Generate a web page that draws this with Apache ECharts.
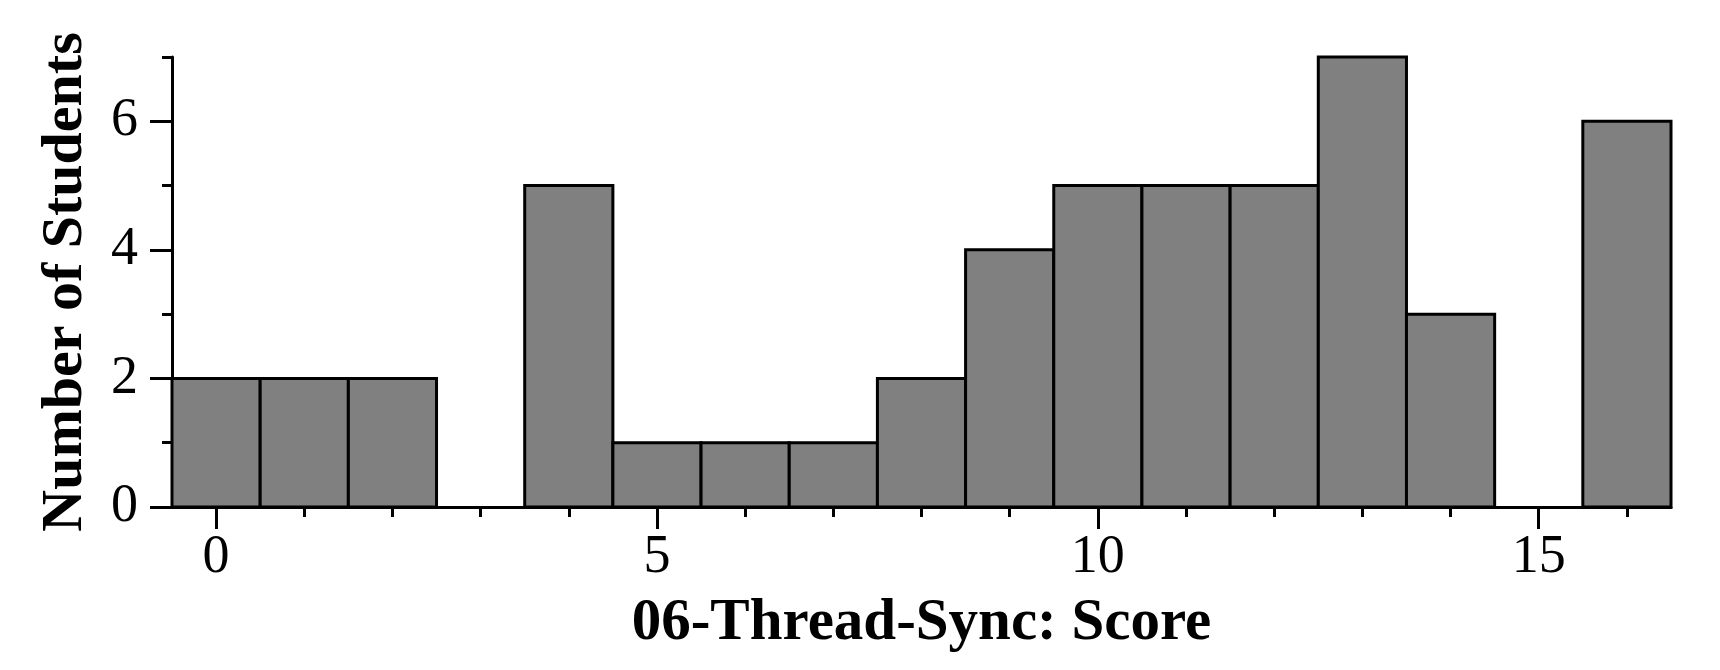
<!DOCTYPE html>
<html>
<head>
<meta charset="utf-8">
<script src="https://cdn.jsdelivr.net/npm/echarts@6/dist/echarts.min.js"></script>
<style>html,body{margin:0;padding:0;background:#fff}#c{width:1720px;height:670px}</style>
</head>
<body>
<div id="c"></div>
<script>
const scores = [0,1,2,3,4,5,6,7,8,9,10,11,12,13,14,15,16];
const counts = [2,2,2,0,5,1,1,1,2,4,5,5,5,7,3,0,6];
const xMajorTicks = [0,5,10,15];
const xMinorTicks = [1,2,3,4,6,7,8,9,11,12,13,14,16];
const yMajorTicks = [0,2,4,6];
const yMinorTicks = [1,3,5,7];
const xTitle = '06-Thread-Sync: Score';
const yTitle = 'Number of Students';

const serif = 'Liberation Serif';
const chart = echarts.init(document.getElementById('c'), null, {renderer:'canvas'});
const axisLine = {show:true, onZero:false, lineStyle:{color:'#000', width:3}};
const data = scores.map((s,i)=>[s, counts[i]]);

chart.setOption({
  animation:false,
  backgroundColor:'#fff',
  grid:{left:172, right:49, top:57, bottom:163, containLabel:false},
  xAxis:[{
    type:'value', min:-0.5, max:16.5, position:'bottom',
    axisLine: axisLine,
    axisTick:{show:true, length:22, lineStyle:{width:3,color:'#000'}, customValues:xMajorTicks},
    axisLabel:{show:true, customValues:xMajorTicks, margin:24, fontFamily:serif, fontSize:54, color:'#000'},
    splitLine:{show:false}
  },{
    type:'value', min:-0.5, max:16.5, position:'bottom', offset:0,
    axisLine:{show:false, onZero:false},
    axisTick:{show:true, length:10, lineStyle:{width:3,color:'#000'}, customValues:xMinorTicks},
    axisLabel:{show:false},
    splitLine:{show:false}
  }],
  yAxis:[{
    type:'value', min:0, max:7, position:'left',
    name:yTitle, nameLocation:'middle', nameRotate:90, nameGap:77,
    nameTextStyle:{fontFamily:serif, fontWeight:'bold', fontSize:58, color:'#000'},
    axisLine: axisLine,
    axisTick:{show:true, length:22, lineStyle:{width:3,color:'#000'}, customValues:yMajorTicks},
    axisLabel:{show:true, customValues:yMajorTicks, margin:34, fontFamily:serif, fontSize:54, color:'#000'},
    splitLine:{show:false}
  },{
    type:'value', min:0, max:7, position:'left', offset:0,
    axisLine:{show:false, onZero:false},
    axisTick:{show:true, length:10, lineStyle:{width:3,color:'#000'}, customValues:yMinorTicks},
    axisLabel:{show:false},
    splitLine:{show:false}
  }],
  graphic:[{
    type:'text', x:921.5, y:624,
    style:{text:xTitle, fontFamily:serif, fontWeight:'bold', fontSize:59, fill:'#000', align:'center', verticalAlign:'middle'}
  }],
  series:[{
    type:'custom',
    xAxisIndex:0, yAxisIndex:0,
    data:data,
    renderItem:function(params, api){
      const x = api.value(0), y = api.value(1);
      if (y <= 0) return null;
      const p0 = api.coord([x-0.5, y]);
      const p1 = api.coord([x+0.5, 0]);
      return {type:'rect', shape:{x:p0[0], y:p0[1], width:p1[0]-p0[0], height:p1[1]-p0[1]},
        style:{fill:'#808080', stroke:'#000', lineWidth:3}};
    },
    encode:{x:0,y:1}
  }]
});
</script>
</body>
</html>
